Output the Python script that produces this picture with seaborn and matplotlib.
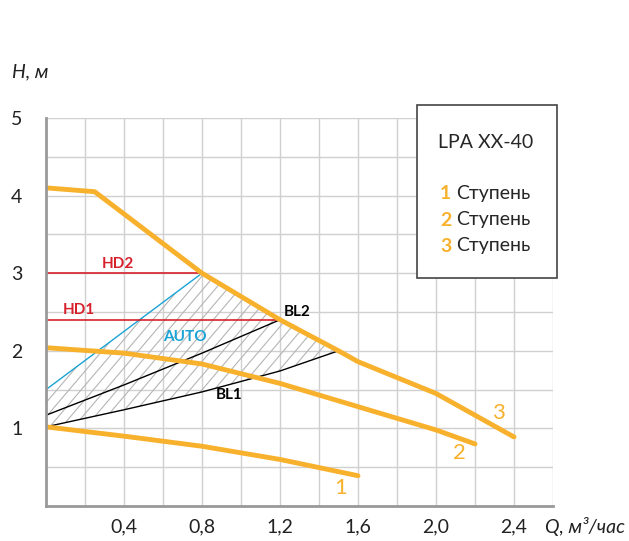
import numpy as np
import pandas as pd
import seaborn as sns
import matplotlib.pyplot as plt
from matplotlib.patches import Polygon, Rectangle

# pump curves (Q, m3/h -> H, m)
q_st3 = [0.0, 0.25, 0.8, 1.2, 1.5, 1.6, 2.0, 2.4]
h_st3 = [4.1, 4.05, 3.0, 2.4, 2.0, 1.86, 1.45, 0.89]
q_st2 = [0.0, 0.4, 0.8, 1.2, 1.6, 2.0, 2.2]
h_st2 = [2.04, 1.97, 1.83, 1.58, 1.28, 0.98, 0.8]
q_st1 = [0.0, 0.4, 0.8, 1.2, 1.6]
h_st1 = [1.02, 0.9, 0.77, 0.6, 0.39]

q_bl1 = [0.0, 0.4, 0.8, 1.2, 1.5]
h_bl1 = [1.02, 1.24, 1.47, 1.74, 2.0]
q_bl2 = [0.0, 0.4, 0.8, 1.2]
h_bl2 = [1.17, 1.56, 1.97, 2.4]
q_auto = [0.0, 0.8]
h_auto = [1.5, 3.0]
q_hd1 = [0.0, 1.2]
h_hd1 = [2.4, 2.4]
q_hd2 = [0.0, 0.8]
h_hd2 = [3.0, 3.0]

xticks = [0.4, 0.8, 1.2, 1.6, 2.0, 2.4]
xlabels = ["0,4", "0,8", "1,2", "1,6", "2,0", "2,4"]
yticks = [1, 2, 3, 4, 5]

orange = "#F8B12C"
red = "#D7202C"
blue = "#1AA3D4"

sns.set_style("white")
plt.rcParams['font.family'] = ['Lato', 'DejaVu Sans']

fig = plt.figure(figsize=(6.29, 5.41), dpi=100)
ax = fig.add_axes([46/629, 35/541, 507/629, 388/541])
ax.set_xlim(0, 2.6)
ax.set_ylim(0, 5)

stages = pd.concat([
    pd.DataFrame({"Q": q_st1, "H": h_st1, "st": "1"}),
    pd.DataFrame({"Q": q_st2, "H": h_st2, "st": "2"}),
    pd.DataFrame({"Q": q_st3, "H": h_st3, "st": "3"}),
])

# hatched working area (thin diagonal lines clipped to the region)
area = list(zip(q_bl1, h_bl1)) + [(1.2, 2.4), (0.8, 3.0)] + [(0.0, 1.5)]
region = Polygon(area, closed=True, fill=False, linewidth=0)
ax.add_patch(region)
dq = 5 * (388 / 5) / (507 / 2.6) * 0.85  # slightly steeper than 45 deg
for q0 in np.arange(-2.0, 1.6, 0.062):
    ln, = ax.plot([q0, q0 + dq], [0, 5], color="#b5b5b5", linewidth=0.8, zorder=1)
    ln.set_clip_path(region)

sns.lineplot(data=pd.DataFrame({"Q": q_bl1, "H": h_bl1}), x="Q", y="H",
             color="black", linewidth=1, ax=ax, zorder=2)
sns.lineplot(data=pd.DataFrame({"Q": q_bl2, "H": h_bl2}), x="Q", y="H",
             color="black", linewidth=1, ax=ax, zorder=2)
sns.lineplot(data=pd.DataFrame({"Q": q_auto, "H": h_auto}), x="Q", y="H",
             color=blue, linewidth=1, ax=ax, zorder=2)
sns.lineplot(data=pd.DataFrame({"Q": q_hd1, "H": h_hd1}), x="Q", y="H",
             color=red, linewidth=1.2, ax=ax, zorder=2)
sns.lineplot(data=pd.DataFrame({"Q": q_hd2, "H": h_hd2}), x="Q", y="H",
             color=red, linewidth=1.2, ax=ax, zorder=2)
sns.lineplot(data=stages, x="Q", y="H", units="st", estimator=None,
             color=orange, linewidth=3.5, ax=ax, zorder=3)

ax.set_xlim(0, 2.6)
ax.set_ylim(0, 5)
ax.set_xticks(xticks)
ax.set_xticklabels(xlabels)
ax.set_yticks(yticks)
ax.set_yticklabels([str(v) for v in yticks])
ax.set_xticks(np.arange(0.2, 2.61, 0.4), minor=True)
ax.set_yticks(np.arange(0.5, 5.0, 1.0), minor=True)
ax.grid(which="both", color="#d0d0d0", linewidth=1)
ax.set_axisbelow(True)
ax.tick_params(axis="both", which="both", length=0, labelsize=14, colors="#222222")
ax.tick_params(axis="x", pad=9)
ax.tick_params(axis="y", pad=25)
for lab in ax.get_yticklabels():
    lab.set_horizontalalignment("left")
ax.set_xlabel("")
ax.set_ylabel("")
for s in ["top", "right"]:
    ax.spines[s].set_visible(False)
for s in ["left", "bottom"]:
    ax.spines[s].set_color("#999999")
    ax.spines[s].set_linewidth(2)
    ax.spines[s].set_zorder(4)

bold = dict(fontsize=11, fontweight="bold")
ax.text(0.37, 3.03, "HD2", color=red, ha="center", va="bottom", **bold)
ax.text(0.17, 2.43, "HD1", color=red, ha="center", va="bottom", **bold)
ax.text(0.71, 2.18, "AUTO", color=blue, ha="center", va="center", **bold)
ax.text(1.22, 2.5, "BL2", color="black", ha="left", va="center", **bold)
ax.text(0.94, 1.43, "BL1", color="black", ha="center", va="center", **bold)
ax.text(1.51, 0.23, "1", color=orange, ha="center", va="center", fontsize=16)
ax.text(2.12, 0.68, "2", color=orange, ha="center", va="center", fontsize=16)
ax.text(2.32, 1.2, "3", color=orange, ha="center", va="center", fontsize=16)

fig.text(12/629, 1 - 72/541, "H, м", fontsize=14, style="italic", va="center", color="#222222")
fig.text(545/629, 1 - 526/541, "Q, м³/час", fontsize=14, style="italic", va="center", color="#222222")

# legend box
fig.patches.append(Rectangle((417/629, 1 - 278/541), 140/629, 173/541,
                             transform=fig.transFigure, facecolor="white",
                             edgecolor="#444444", linewidth=1.2, zorder=5))
fig.text(486/629, 1 - 142/541, "LPA XX-40", fontsize=14, ha="center", va="center", zorder=6)
for i, yy in enumerate([193, 220, 246]):
    fig.text(440/629, 1 - yy/541, str(i + 1), fontsize=14, color=orange,
             fontweight="bold", va="center", zorder=6)
    fig.text(456/629, 1 - yy/541, "Ступень", fontsize=14, va="center", zorder=6)

fig.savefig("out.png", dpi=100)
